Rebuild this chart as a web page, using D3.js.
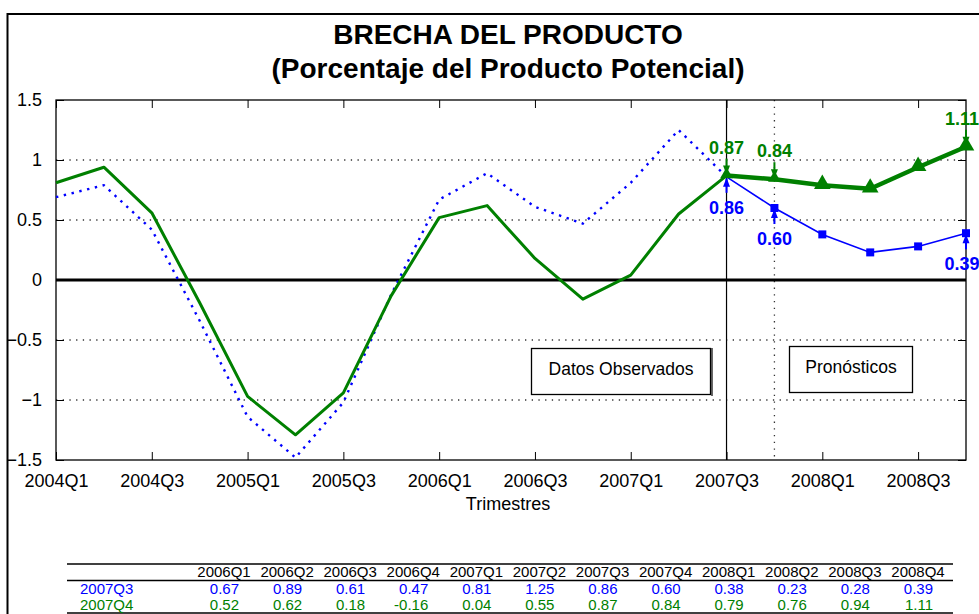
<!DOCTYPE html>
<html>
<head>
<meta charset="utf-8">
<script src="https://cdn.jsdelivr.net/npm/d3@7"></script>
<style>
  html, body { margin: 0; padding: 0; background: #fff; }
  svg { display: block; font-family: "Liberation Sans", Arial, sans-serif; }
</style>
</head>
<body>
<svg id="chart" width="979" height="614"></svg>
<script>
// Quarters on the x axis (2004Q1 .. 2008Q4)
const quarters = ["2004Q1","2004Q2","2004Q3","2004Q4","2005Q1","2005Q2","2005Q3","2005Q4",
                  "2006Q1","2006Q2","2006Q3","2006Q4","2007Q1","2007Q2","2007Q3","2007Q4",
                  "2008Q1","2008Q2","2008Q3","2008Q4"];
// Output gap, estimate made in 2007Q3
const gapQ3 = [0.69, 0.79, 0.42, -0.34, -1.14, -1.48, -1.02, -0.12,
               0.67, 0.89, 0.61, 0.47, 0.81, 1.25, 0.86, 0.60,
               0.38, 0.23, 0.28, 0.39];
// Output gap, estimate made in 2007Q4
const gapQ4 = [0.81, 0.94, 0.56, -0.19, -0.97, -1.29, -0.94, -0.13,
               0.52, 0.62, 0.18, -0.16, 0.04, 0.55, 0.87, 0.84,
               0.79, 0.76, 0.94, 1.11];
// Index where the forecast segment begins
const forecastStart = 14; // 2007Q3
const tickQuarters = ["2004Q1","2004Q3","2005Q1","2005Q3","2006Q1","2006Q3","2007Q1","2007Q3","2008Q1","2008Q3"];
const yTicks = [-1.5, -1, -0.5, 0, 0.5, 1, 1.5];
const gridValues = [-1, -0.5, 0.5, 1];
// Table shown under the chart (2006Q1 .. 2008Q4)
const tableCols = quarters.slice(8);
const tableRows = [
  { name: "2007Q3", values: gapQ3.slice(8) },
  { name: "2007Q4", values: gapQ4.slice(8) }
];
// Value callouts
const greenCallouts = ["2007Q3", "2007Q4", "2008Q4"];
const blueCallouts = ["2007Q3", "2007Q4", "2008Q4"];

const BLUE = "#0000ff", GREEN = "#008000";
const svg = d3.select("#chart");

// Outer frame
svg.append("rect").attr("x", 7.5).attr("y", 14).attr("width", 1000).attr("height", 700)
  .attr("fill", "none").attr("stroke", "#000").attr("stroke-width", 2);

// Titles
svg.append("text").attr("x", 508).attr("y", 44).attr("text-anchor", "middle")
  .attr("font-size", 28).attr("font-weight", "bold").text("BRECHA DEL PRODUCTO");
svg.append("text").attr("x", 508).attr("y", 78).attr("text-anchor", "middle")
  .attr("font-size", 28).attr("font-weight", "bold").text("(Porcentaje del Producto Potencial)");

const L = 56, R = 966, T = 100, B = 460;
const x = d3.scaleLinear().domain([0, quarters.length - 1]).range([L, R]);
const y = d3.scaleLinear().domain([-1.5, 1.5]).range([B, T]);
const qi = q => quarters.indexOf(q);

// Dotted horizontal grid
svg.append("g").selectAll("line").data(gridValues).join("line")
  .attr("x1", L).attr("x2", R).attr("y1", d => y(d)).attr("y2", d => y(d))
  .attr("stroke", "#333").attr("stroke-width", 1.3).attr("stroke-dasharray", "1.3,5.4");

// Forecast divider lines
svg.append("line").attr("x1", x(qi("2007Q4"))).attr("x2", x(qi("2007Q4")))
  .attr("y1", T).attr("y2", B).attr("stroke", "#333").attr("stroke-width", 1.3)
  .attr("stroke-dasharray", "1.3,5.4");
svg.append("line").attr("x1", x(qi("2007Q3"))).attr("x2", x(qi("2007Q3")))
  .attr("y1", T).attr("y2", B).attr("stroke", "#000").attr("stroke-width", 1.2);

// Axes (ticks pointing inward)
const tickVals = tickQuarters.map(qi);
svg.append("g").attr("transform", `translate(0,${B})`)
  .call(d3.axisBottom(x).tickValues(tickVals).tickFormat(i => quarters[i]).tickSizeInner(-8).tickSizeOuter(0).tickPadding(14))
  .call(g => { g.select(".domain").remove();
               g.selectAll("text").attr("font-size", 18).attr("font-family", "Liberation Sans, Arial, sans-serif").attr("fill", "#000");
               g.selectAll("line").attr("stroke", "#000"); });
svg.append("g").attr("transform", `translate(0,${T})`)
  .call(d3.axisTop(x).tickValues(tickVals).tickFormat("").tickSizeInner(-8).tickSizeOuter(0))
  .call(g => { g.select(".domain").remove(); g.selectAll("line").attr("stroke", "#000"); });
svg.append("g").attr("transform", `translate(${L},0)`)
  .call(d3.axisLeft(y).tickValues(yTicks).tickFormat(d3.format("")).tickSizeInner(-8).tickSizeOuter(0).tickPadding(14))
  .call(g => { g.select(".domain").remove();
               g.selectAll("text").attr("font-size", 18).attr("font-family", "Liberation Sans, Arial, sans-serif").attr("fill", "#000");
               g.selectAll("line").attr("stroke", "#000"); });
svg.append("g").attr("transform", `translate(${R},0)`)
  .call(d3.axisRight(y).tickValues(yTicks).tickFormat("").tickSizeInner(-8).tickSizeOuter(0))
  .call(g => { g.select(".domain").remove(); g.selectAll("line").attr("stroke", "#000"); });

// Plot box
svg.append("rect").attr("x", L).attr("y", T).attr("width", R - L).attr("height", B - T)
  .attr("fill", "none").attr("stroke", "#000").attr("stroke-width", 1.3);

// Zero line
svg.append("line").attr("x1", L).attr("x2", R).attr("y1", y(0)).attr("y2", y(0))
  .attr("stroke", "#000").attr("stroke-width", 3);

// Text boxes
function labelBox(x0, y0, w, h, txt, ty) {
  svg.append("rect").attr("x", x0).attr("y", y0).attr("width", w).attr("height", h)
    .attr("fill", "#fff").attr("stroke", "#000").attr("stroke-width", 1.3);
  svg.append("text").attr("x", x0 + w / 2).attr("y", ty).attr("text-anchor", "middle")
    .attr("font-size", 17.5).text(txt);
}
labelBox(531.5, 348.5, 179, 46, "Datos Observados", 375);
svg.append("line").attr("x1", 712).attr("x2", 712).attr("y1", 348).attr("y2", 396)
  .attr("stroke", "#000").attr("stroke-width", 1.2);
labelBox(789.5, 346.5, 123, 46, "Pronósticos", 373);

const line = d3.line().x(d => x(d.i)).y(d => y(d.v));
const pts = arr => arr.map((v, i) => ({ i, v }));
const q3 = pts(gapQ3), q4 = pts(gapQ4);

// 2007Q3 estimate: observed (dotted) and forecast (thin with squares)
svg.append("path").attr("d", line(q3.slice(0, forecastStart + 1)))
  .attr("fill", "none").attr("stroke", BLUE).attr("stroke-width", 2.4)
  .attr("stroke-dasharray", "2.4,5.6");
svg.append("path").attr("d", line(q3.slice(forecastStart)))
  .attr("fill", "none").attr("stroke", BLUE).attr("stroke-width", 1.6);
svg.append("g").selectAll("rect").data(q3.slice(forecastStart + 1)).join("rect")
  .attr("x", d => x(d.i) - 4).attr("y", d => y(d.v) - 4).attr("width", 8).attr("height", 8)
  .attr("fill", BLUE);

// 2007Q4 estimate: observed (solid) and forecast (thick with triangles)
svg.append("path").attr("d", line(q4.slice(0, forecastStart + 1)))
  .attr("fill", "none").attr("stroke", GREEN).attr("stroke-width", 3).attr("stroke-linejoin", "round");
svg.append("path").attr("d", line(q4.slice(forecastStart)))
  .attr("fill", "none").attr("stroke", GREEN).attr("stroke-width", 4.5).attr("stroke-linejoin", "round");
const tri = d3.symbol().type(d3.symbolTriangle);
svg.append("g").selectAll("path").data(q4.slice(forecastStart)).join("path")
  .attr("transform", d => `translate(${x(d.i)},${y(d.v) - 1})`)
  .attr("d", d => tri.size(d.i <= forecastStart + 1 ? 70 : 120)())
  .attr("fill", GREEN);

// Value callouts with arrows
function arrowHead(px, py, dir, color) {
  // dir = +1 pointing down, -1 pointing up
  svg.append("path")
    .attr("d", `M${px},${py} L${px - 3.5},${py - dir * 9} L${px + 3.5},${py - dir * 9} Z`)
    .attr("fill", color);
}
greenCallouts.forEach(q => {
  const i = qi(q), v = gapQ4[i], px = x(i), py = y(v);
  const tx = Math.min(px, 962);
  svg.append("text").attr("x", tx).attr("y", py - 22).attr("text-anchor", "middle")
    .attr("font-size", 18).attr("font-weight", "bold").attr("fill", GREEN).text(v.toFixed(2));
  svg.append("line").attr("x1", px).attr("x2", px).attr("y1", py - 17).attr("y2", py - 2)
    .attr("stroke", GREEN).attr("stroke-width", 2);
  arrowHead(px, py - 1, 1, GREEN);
});
blueCallouts.forEach(q => {
  const i = qi(q), v = gapQ3[i], px = x(i), py = y(v);
  const tx = Math.min(px, 962);
  svg.append("text").attr("x", tx).attr("y", py + 37).attr("text-anchor", "middle")
    .attr("font-size", 18).attr("font-weight", "bold").attr("fill", BLUE).text(v.toFixed(2));
  svg.append("line").attr("x1", px).attr("x2", px).attr("y1", py + 2).attr("y2", py + 16)
    .attr("stroke", BLUE).attr("stroke-width", 2);
  arrowHead(px, py + 1, -1, BLUE);
});

// X axis title
svg.append("text").attr("x", 508).attr("y", 510).attr("text-anchor", "middle")
  .attr("font-size", 18).text("Trimestres");

// Data table
const colX = d3.scaleLinear().domain([0, tableCols.length - 1]).range([224, 918]);
const tbl = svg.append("g").attr("font-size", 15);
tbl.append("line").attr("x1", 67).attr("x2", 953).attr("y1", 564).attr("y2", 564)
  .attr("stroke", "#000").attr("stroke-width", 1.6);
tbl.append("line").attr("x1", 67).attr("x2", 953).attr("y1", 580.5).attr("y2", 580.5)
  .attr("stroke", "#000").attr("stroke-width", 1.3);
tbl.append("line").attr("x1", 67).attr("x2", 953).attr("y1", 613).attr("y2", 613)
  .attr("stroke", "#000").attr("stroke-width", 1.3);
tbl.selectAll("text.head").data(tableCols).join("text").attr("class", "head")
  .attr("x", (d, i) => colX(i)).attr("y", 577).attr("text-anchor", "middle").text(d => d);
tableRows.forEach((row, r) => {
  const color = r === 0 ? BLUE : GREEN;
  const ty = r === 0 ? 594 : 610;
  tbl.append("text").attr("x", 80).attr("y", ty).attr("fill", color).text(row.name);
  tbl.selectAll(`text.v${r}`).data(row.values).join("text").attr("class", `v${r}`)
    .attr("x", (d, i) => colX(i) + 15).attr("y", ty).attr("text-anchor", "end")
    .attr("fill", color).text(d => d.toFixed(2));
});
</script>
</body>
</html>
